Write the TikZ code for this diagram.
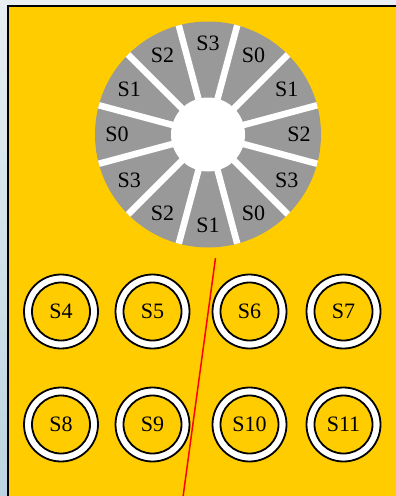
\documentclass[tikz,border=0pt]{standalone}
\usepackage{fontspec}
\setmainfont{Liberation Serif}
\usetikzlibrary{calc}
\definecolor{bgyellow}{HTML}{FFCC00}
\definecolor{wheelgray}{HTML}{999999}
\definecolor{bgtop}{HTML}{E8EEF2}
\definecolor{bgbottom}{HTML}{BCD4E2}
\begin{document}
\begin{tikzpicture}[x=1pt,y=-1pt,
  lbl/.style={font=\fontsize{22}{26}\selectfont, inner sep=0pt, text=black},
  outerring/.style={circle, minimum size=74pt, draw=black, line width=1.8pt, fill=white, inner sep=0pt},
  innerring/.style={circle, minimum size=58pt, draw=black, line width=1.8pt, fill=bgyellow, inner sep=0pt, font=\fontsize{22}{26}\selectfont},
  spoke/.style={white, line width=6.5pt, line cap=butt}
]
\useasboundingbox (0,0) rectangle (396,496);
\fill[top color=bgtop, bottom color=bgbottom] (0,0) rectangle (396,496);
\fill[bgtop] (0,0) rectangle (396,5);
\draw[fill=bgyellow, line width=2pt] (7.5,5.7) rectangle (402,502);
% wheel
\coordinate (W) at (208,134.5);
\fill[wheelgray] (W) circle (113);
\foreach \a in {15,45,...,345} {
  \draw[spoke] (W) -- ++(-\a:113);
}
\fill[white] (W) circle (37);
\foreach \k in {0,...,11} {
  \pgfmathtruncatemacro\n{mod(15-\k,4)}
  \pgfmathsetmacro\ang{-(90+30*\k)}
  \node[lbl] (w\k) at ($(W)+(\ang:91)$) {S\n};
}
% rings
\foreach \i/\x/\y in {4/61/311.5, 5/152.5/311.5, 6/249.5/311.5, 7/343.5/311.5,
                      8/61/424.5, 9/152.5/424.5, 10/249.5/424.5, 11/343.5/424.5} {
  \node[outerring] (o\i) at (\x,\y) {};
  \node[innerring] (s\i) at (\x,\y) {S\i};
}
% red line
\coordinate (r1) at (215.5,258);
\coordinate (r2) at (183,497);
\draw[red, line width=1.5pt] (r1) -- (r2);
\end{tikzpicture}
\end{document}
